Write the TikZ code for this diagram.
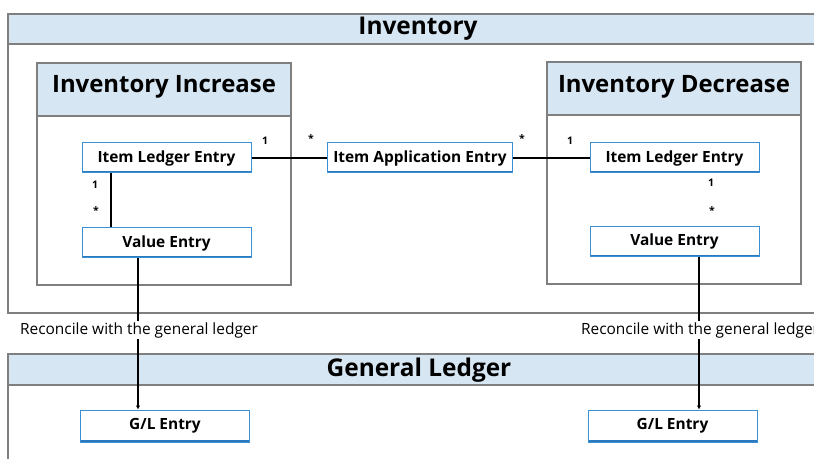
\documentclass[tikz,border=0pt]{standalone}
\usepackage{fontspec}
\setmainfont{Open Sans}
\usetikzlibrary{arrows.meta,calc}
\definecolor{framegray}{HTML}{7F7F7F}
\definecolor{hdrblue}{HTML}{D7E6F3}
\definecolor{entryblue}{HTML}{3B8FD2}
\definecolor{entrydark}{HTML}{2A78BE}
\begin{document}
\begin{tikzpicture}[x=1bp,y=-1bp,
  frame/.style={draw=framegray, line width=1.3bp, fill=white, inner sep=0pt, outer sep=0pt},
  hdr/.style={draw=framegray, line width=1.3bp, fill=hdrblue, inner sep=0pt, outer sep=0pt},
  bigtitle/.style={font=\fontsize{24.5}{28}\selectfont\bfseries, inner sep=0pt},
  grptitle/.style={font=\fontsize{24}{28}\selectfont\bfseries, inner sep=0pt},
  entry/.style={draw=entryblue, line width=1bp, fill=white, inner sep=0pt,
    minimum width=169bp, minimum height=30bp,
    font=\fontsize{15.5}{18}\selectfont\bfseries,
    path picture={\draw[entrydark, line width=3.6bp]
      (path picture bounding box.south west) -- (path picture bounding box.south east);}},
  mult/.style={font=\fontsize{10.5}{12}\selectfont\bfseries, inner sep=0pt},
  note/.style={font=\fontsize{15.5}{18}\selectfont, fill=white, inner sep=1pt},
  conn/.style={draw=black, line width=1.2bp},
  arr/.style={conn, -{Latex[length=4bp,width=4.5bp]}}
]
\useasboundingbox (0,0) rectangle (814,459);
\clip (0,0) rectangle (814,459);

% Inventory container
\path[frame] (8,14) rectangle (840,313);
\path[hdr] (8,14) rectangle (840,44);
\node[bigtitle] (invtitle) at (418,29) {Inventory};

% General Ledger container
\path[frame] (8,354) rectangle (840,480);
\path[hdr] (8,354) rectangle (840,385);
\node[bigtitle] (gltitle) at (419,370) {General Ledger};

% Inventory Increase group
\path[frame] (37,63) rectangle (291,285);
\path[hdr] (37,63) rectangle (291,116);
\node[grptitle] (inctitle) at (164,87) {Inventory Increase};

% Inventory Decrease group
\path[frame] (547,62) rectangle (801,284);
\path[hdr] (547,62) rectangle (801,115);
\node[grptitle] (dectitle) at (674,87) {Inventory Decrease};

% Entries
\node[entry] (ile1) at (166.5,158) {Item Ledger Entry};
\node[entry] (ve1) at (166.5,243) {Value Entry};
\node[entry, minimum width=185bp] (iae) at (420,158) {Item Application Entry};
\node[entry] (ile2) at (674.5,158) {Item Ledger Entry};
\node[entry] (ve2) at (674.5,241.5) {Value Entry};
\node[entry, minimum height=32bp] (gl1) at (165,426) {G/L Entry};
\node[entry, minimum height=32bp] (gl2) at (672.5,426) {G/L Entry};

% Connectors
\coordinate (xa) at (111,0);
\coordinate (xb) at (138,0);
\coordinate (xc) at (699,0);
\draw[conn] (ile1.east) -- (iae.west);
\draw[conn] (iae.east) -- (ile2.west);
\draw[conn] (ile1.south -| xa) -- (ve1.north -| xa);
\draw[arr] (ve1.south -| xb) -- (gl1.north -| xb);
\draw[arr] (ve2.south -| xc) -- (gl2.north -| xc);

% Notes
\node[note] (n1) at (139,330) {Reconcile with the general ledger};
\node[note] (n2) at (700,330) {Reconcile with the general ledger};

% Multiplicities
\node[mult] (m1) at (265,141) {1};
\node[mult] (m2) at (311,139) {*};
\node[mult] (m3) at (522,139) {*};
\node[mult] (m4) at (570,141) {1};
\node[mult] (m5) at (95,185) {1};
\node[mult] (m6) at (96,211) {*};
\node[mult] (m7) at (711,183) {1};
\node[mult] (m8) at (712,211) {*};
\end{tikzpicture}
\end{document}
